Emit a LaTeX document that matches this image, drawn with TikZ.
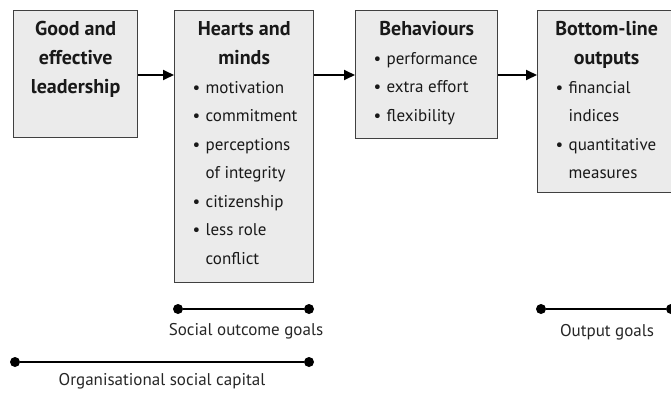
\documentclass[tikz,border=0pt]{standalone}
\usepackage{fontspec}
\setmainfont{PT Sans}
\usetikzlibrary{arrows.meta}

% bullet line with hanging indent, bold centred heading, fixed-size box body
\newcommand{\bul}[1]{\par\noindent\hangindent=21pt\hangafter=1\hspace*{8pt}\makebox[13pt][l]{\textbullet}#1}
\newcommand{\boxhead}[1]{{\centering\fontsize{20}{29}\bfseries #1\par}}
\newcommand{\boxbody}[3]{\parbox[c][#1][t]{#2}{\fontsize{17}{28.5}\selectfont #3}}

\begin{document}
\begin{tikzpicture}[x=1pt,y=-1pt,
  box/.style={draw=black!75,line width=1.3pt,fill=black!8,inner xsep=10pt,inner ysep=11pt,anchor=north west,text=black!90},
  flow/.style={line width=1.8pt,-{Triangle[length=11pt,width=10pt]}},
  dot/.style={circle,fill=black,inner sep=0pt,minimum size=10pt},
  goal/.style={line width=2pt},
  goallabel/.style={font=\fontsize{17}{20}\selectfont,text=black!85}]
\useasboundingbox (0,0) rectangle (671,394);

\node[box] (lead) at (13,10) {\boxbody{105pt}{104pt}{\boxhead{Good and\\ effective\\ leadership}}};
\node[box] (hearts) at (174,10) {\boxbody{250pt}{119pt}{\boxhead{Hearts and\\ minds}
  \bul{motivation}
  \bul{commitment}
  \bul{perceptions\\ of integrity}
  \bul{citizenship}
  \bul{less role\\ conflict}}};
\node[box] (behav) at (355,10) {\boxbody{106pt}{122pt}{\boxhead{Behaviours}
  \bul{performance}
  \bul{extra effort}
  \bul{flexibility}}};
\node[box] (outputs) at (537,10) {\boxbody{160pt}{118pt}{\boxhead{Bottom-line\\ outputs}
  \bul{financial\\ indices}
  \bul{quantitative\\ measures}}};

% arrows between the boxes
\coordinate (row) at (0,75);
\draw[flow] (lead.east |- row) -- (hearts.west |- row);
\draw[flow] (hearts.east |- row) -- (behav.west |- row);
\draw[flow] (behav.east |- row) -- (outputs.west |- row);

% goal ranges
\node[dot] (so1) at (178,309) {};
\node[dot] (so2) at (309,309) {};
\draw[goal] (so1) -- (so2);
\node[goallabel] (so) at (246,331) {Social outcome goals};

\node[dot] (oc1) at (15,362) {};
\node[dot] (oc2) at (309,362) {};
\draw[goal] (oc1) -- (oc2);
\node[goallabel] (oc) at (162,381) {Organisational social capital};

\node[dot] (og1) at (541,309) {};
\node[dot] (og2) at (671,309) {};
\draw[goal] (og1) -- (og2);
\node[goallabel] (og) at (607,332) {Output goals};
\end{tikzpicture}
\end{document}
